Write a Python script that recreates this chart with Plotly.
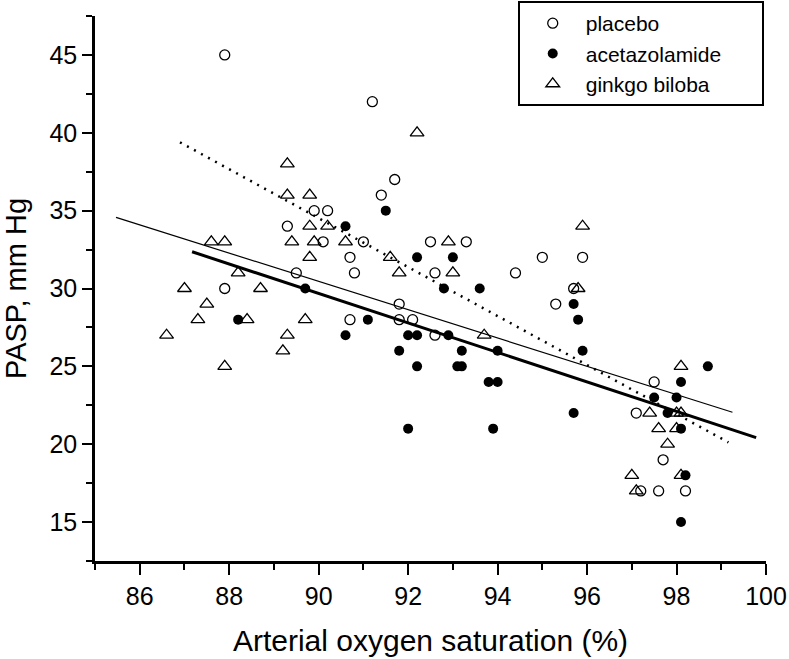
import plotly.graph_objects as go

# ---- data ----
placebo_x = [87.9, 89.3, 89.5, 87.9, 91.2, 91.7, 91.4, 89.9, 90.2, 90.1, 91.0, 92.5, 93.3,
             90.7, 90.8, 92.6, 94.4, 91.8, 90.7, 91.8, 92.1, 92.6, 95.0, 95.9, 95.7, 95.3,
             97.5, 97.1, 97.7, 97.2, 97.6, 98.2]
placebo_y = [45, 34, 31, 30, 42, 37, 36, 35, 35, 33, 33, 33, 33,
             32, 31, 31, 31, 29, 28, 28, 28, 27, 32, 32, 30, 29,
             24, 22, 19, 17, 17, 17]

acet_x = [88.2, 89.7, 91.5, 90.6, 92.2, 93.0, 92.8, 93.6, 91.1, 90.6, 92.0, 92.2, 92.9,
          91.8, 93.2, 94.0, 92.2, 93.1, 93.2, 93.8, 94.0, 92.0, 93.9, 95.7, 95.8, 95.9,
          98.7, 98.1, 97.5, 98.0, 95.7, 97.8, 98.1, 98.2, 98.1]
acet_y = [28, 30, 35, 34, 32, 32, 30, 30, 28, 27, 27, 27, 27,
          26, 26, 26, 25, 25, 25, 24, 24, 21, 21, 29, 28, 26,
          25, 24, 23, 23, 22, 22, 21, 18, 15]

ginkgo_x = [89.3, 89.3, 89.8, 87.6, 87.9, 89.4, 88.2, 87.0, 88.7, 87.5, 87.3, 88.4, 89.7,
            86.6, 89.3, 89.2, 87.9, 92.2, 89.8, 90.2, 89.9, 90.6, 92.9, 89.8, 91.6, 91.8,
            93.0, 93.7, 95.9, 95.8, 98.1, 97.4, 98.0, 98.1, 97.6, 98.0, 97.8, 97.0, 98.1, 97.1]
ginkgo_y = [38, 36, 36, 33, 33, 33, 31, 30, 30, 29, 28, 28, 28,
            27, 27, 26, 25, 40, 34, 34, 33, 33, 33, 32, 32, 31,
            31, 27, 34, 30, 25, 22, 22, 22, 21, 21, 20, 18, 18, 17]

# regression lines (end points)
placebo_fit_x = [86.90, 99.16]
placebo_fit_y = [39.39, 20.12]
ginkgo_fit_x = [85.47, 99.25]
ginkgo_fit_y = [34.57, 22.05]
acet_fit_x = [87.17, 99.78]
acet_fit_y = [32.36, 20.42]

series_names = ["placebo", "acetazolamide", "ginkgo biloba"]
x_title = "Arterial oxygen saturation (%)"
y_title = "PASP, mm Hg"

FONT = "Arial, Liberation Sans, sans-serif"
PAD = "\u00a0" * 6  # widens the legend box like the reference

fig = go.Figure()

fig.add_trace(go.Scatter(x=placebo_fit_x, y=placebo_fit_y, mode="lines",
                         line=dict(color="black", width=2.5, dash="2px,6px"),
                         showlegend=False, hoverinfo="skip"))
fig.add_trace(go.Scatter(x=ginkgo_fit_x, y=ginkgo_fit_y, mode="lines",
                         line=dict(color="black", width=1.2),
                         showlegend=False, hoverinfo="skip"))
fig.add_trace(go.Scatter(x=acet_fit_x, y=acet_fit_y, mode="lines",
                         line=dict(color="black", width=3),
                         showlegend=False, hoverinfo="skip"))

fig.add_trace(go.Scatter(x=placebo_x, y=placebo_y, mode="markers", name=series_names[0],
                         marker=dict(symbol="circle-open", size=10, color="black",
                                     line=dict(width=1.3, color="black"))))
fig.add_trace(go.Scatter(x=acet_x, y=acet_y, mode="markers", name=series_names[1] + PAD,
                         marker=dict(symbol="circle", size=10, color="black",
                                     line=dict(width=0))))
fig.add_trace(go.Scatter(x=ginkgo_x, y=ginkgo_y, mode="markers", name=series_names[2],
                         marker=dict(symbol="triangle-up-open", size=12, color="black",
                                     line=dict(width=1.3, color="black"))))

fig.update_layout(
    width=789, height=659,
    margin=dict(l=95, r=23, t=16, b=98, autoexpand=False),
    plot_bgcolor="white", paper_bgcolor="white",
    font=dict(family=FONT, color="black"),
    legend=dict(x=0.63, y=1.0275, xanchor="left", yanchor="top",
                bordercolor="black", borderwidth=2, bgcolor="white",
                font=dict(size=21, family=FONT, color="black"),
                itemwidth=56, tracegroupgap=0),
)

fig.update_xaxes(range=[85, 100], showline=True, linecolor="black", linewidth=2.5,
                 ticks="outside", ticklen=11, tickwidth=2, tickcolor="black",
                 tick0=86, dtick=2, showgrid=False, zeroline=False, automargin=False,
                 tickfont=dict(size=25, family=FONT, color="black"),
                 minor=dict(ticks="outside", ticklen=6, tickwidth=2, tickcolor="black",
                            dtick=1, tick0=85, showgrid=False),
                 title=dict(text=x_title, font=dict(size=30, family=FONT, color="black"),
                            standoff=22))
fig.update_yaxes(range=[12.5, 47.5], showline=True, linecolor="black", linewidth=2.5,
                 ticks="outside", ticklen=10, tickwidth=2, tickcolor="black",
                 tick0=15, dtick=5, showgrid=False, zeroline=False, automargin=False,
                 tickfont=dict(size=25, family=FONT, color="black"),
                 minor=dict(ticks="outside", ticklen=6, tickwidth=2, tickcolor="black",
                            dtick=2.5, tick0=12.5, showgrid=False),
                 title=dict(text=y_title, font=dict(size=29, family=FONT, color="black"),
                            standoff=22))

fig.write_html("out.html", config={"displayModeBar": False},
               post_script="document.body.style.margin='0';document.body.style.overflow='hidden';")
